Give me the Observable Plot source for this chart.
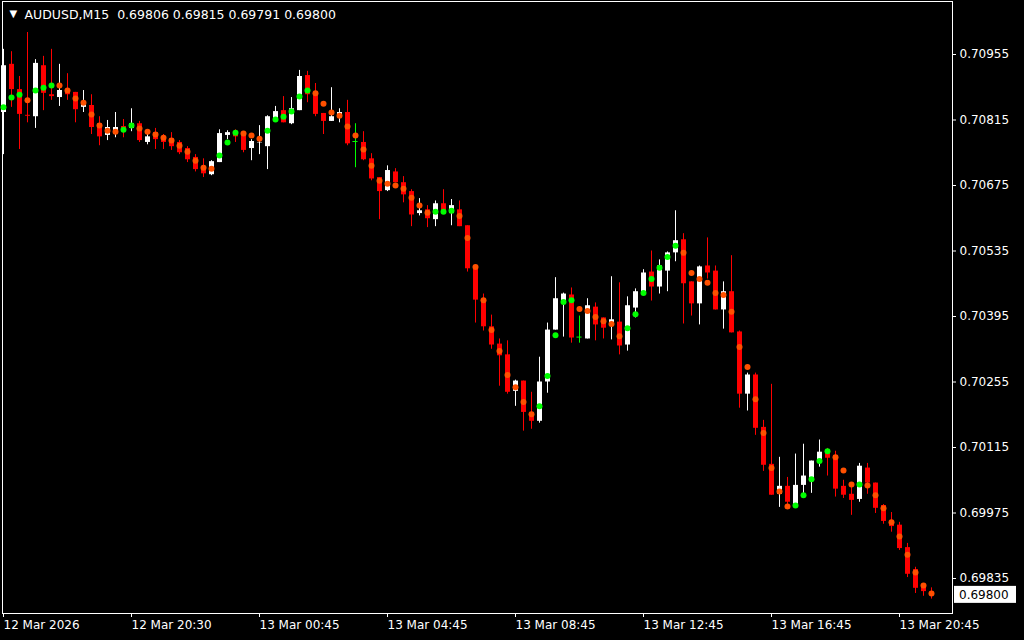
<!DOCTYPE html>
<html><head><meta charset="utf-8">
<script src="https://cdn.jsdelivr.net/npm/d3@7"></script>
<script src="https://cdn.jsdelivr.net/npm/@observablehq/plot@0.6"></script>
<style>
html,body{margin:0;padding:0;background:#000;overflow:hidden;}
#chart{width:1024px;height:640px;}
</style></head><body><div id="chart"></div>
<script>
const symbol = "AUDUSD";
const timeframe = "M15";

const opens = [0.70831,0.70934,0.70880,0.70825,0.70822,0.70931,0.70869,0.70863,0.70880,0.70874,
0.70842,0.70846,0.70807,0.70782,0.70790,0.70801,0.70797,0.70807,0.70767,0.70788,
0.70777,0.70775,0.70767,0.70754,0.70735,0.70715,0.70698,0.70724,0.70782,0.70786,
0.70784,0.70754,0.70766,0.70758,0.70812,0.70835,0.70807,0.70835,0.70910,0.70874,
0.70829,0.70812,0.70822,0.70831,0.70769,0.70767,0.70732,0.70692,0.70664,0.70704,
0.70681,0.70662,0.70615,0.70623,0.70602,0.70636,0.70615,0.70623,0.70589,0.70497,
0.70430,0.70373,0.70336,0.70313,0.70235,0.70257,0.70190,0.70171,0.70255,0.70366,
0.70426,0.70441,0.70351,0.70347,0.70415,0.70392,0.70377,0.70383,0.70334,0.70413,
0.70445,0.70490,0.70458,0.70492,0.70531,0.70559,0.70469,0.70422,0.70503,0.70492,
0.70409,0.70448,0.70362,0.70229,0.70270,0.70158,0.70079,0.70015,0.70032,0.69991,
0.70034,0.70049,0.70083,0.70103,0.70098,0.70032,0.70015,0.70004,0.70071,0.70039,
0.69991,0.69955,0.69949,0.69901,0.69854,0.69816,0.69806];

const highs = [0.70966,0.70961,0.70908,0.71002,0.70944,0.70951,0.70966,0.70934,0.70914,0.70874,
0.70878,0.70869,0.70822,0.70814,0.70831,0.70816,0.70839,0.70812,0.70790,0.70797,
0.70784,0.70788,0.70771,0.70758,0.70741,0.70732,0.70728,0.70794,0.70792,0.70794,
0.70790,0.70773,0.70803,0.70824,0.70844,0.70865,0.70863,0.70921,0.70919,0.70893,
0.70829,0.70884,0.70839,0.70857,0.70807,0.70790,0.70743,0.70692,0.70717,0.70711,
0.70694,0.70666,0.70647,0.70632,0.70642,0.70666,0.70645,0.70642,0.70589,0.70499,
0.70443,0.70398,0.70347,0.70343,0.70259,0.70257,0.70233,0.70308,0.70381,0.70478,
0.70445,0.70456,0.70396,0.70433,0.70424,0.70392,0.70480,0.70467,0.70437,0.70454,
0.70495,0.70535,0.70516,0.70533,0.70621,0.70572,0.70469,0.70503,0.70563,0.70503,
0.70469,0.70525,0.70364,0.70274,0.70274,0.70173,0.70250,0.70094,0.70051,0.70101,
0.70122,0.70086,0.70131,0.70113,0.70107,0.70045,0.70034,0.70081,0.70081,0.70039,
0.69993,0.69976,0.69955,0.69910,0.69859,0.69822,0.69815];

const lows = [0.70741,0.70842,0.70752,0.70809,0.70797,0.70835,0.70857,0.70844,0.70857,0.70809,
0.70831,0.70784,0.70760,0.70771,0.70777,0.70777,0.70790,0.70767,0.70762,0.70752,
0.70752,0.70750,0.70741,0.70724,0.70704,0.70692,0.70696,0.70724,0.70773,0.70767,
0.70745,0.70728,0.70741,0.70709,0.70812,0.70809,0.70805,0.70835,0.70852,0.70822,
0.70784,0.70812,0.70809,0.70760,0.70713,0.70728,0.70685,0.70602,0.70662,0.70681,
0.70638,0.70587,0.70610,0.70585,0.70587,0.70615,0.70589,0.70587,0.70490,0.70381,
0.70364,0.70325,0.70246,0.70229,0.70203,0.70150,0.70154,0.70167,0.70231,0.70366,
0.70351,0.70338,0.70338,0.70347,0.70343,0.70347,0.70345,0.70313,0.70321,0.70392,
0.70445,0.70428,0.70443,0.70448,0.70512,0.70379,0.70396,0.70377,0.70475,0.70409,
0.70368,0.70360,0.70199,0.70193,0.70141,0.70064,0.70013,0.69987,0.69987,0.69991,
0.70015,0.70017,0.70073,0.70054,0.70009,0.70006,0.69970,0.69998,0.70015,0.69974,
0.69951,0.69934,0.69895,0.69837,0.69803,0.69797,0.69791];

const closes = [0.70931,0.70880,0.70827,0.70823,0.70936,0.70872,0.70865,0.70878,0.70869,0.70837,
0.70850,0.70799,0.70779,0.70799,0.70799,0.70790,0.70807,0.70771,0.70779,0.70773,
0.70767,0.70758,0.70745,0.70730,0.70709,0.70700,0.70726,0.70786,0.70788,0.70779,
0.70750,0.70769,0.70767,0.70822,0.70833,0.70809,0.70839,0.70908,0.70869,0.70827,
0.70812,0.70822,0.70831,0.70764,0.70769,0.70730,0.70689,0.70662,0.70707,0.70681,
0.70655,0.70612,0.70621,0.70604,0.70636,0.70615,0.70632,0.70587,0.70497,0.70430,
0.70373,0.70334,0.70311,0.70233,0.70257,0.70190,0.70171,0.70255,0.70366,0.70433,
0.70443,0.70349,0.70351,0.70418,0.70377,0.70370,0.70388,0.70332,0.70418,0.70448,
0.70488,0.70458,0.70503,0.70531,0.70557,0.70465,0.70422,0.70501,0.70488,0.70409,
0.70448,0.70360,0.70229,0.70270,0.70156,0.70077,0.70013,0.70032,0.69998,0.70034,
0.70054,0.70086,0.70105,0.70092,0.70026,0.70013,0.70002,0.70075,0.70039,0.69985,
0.69957,0.69946,0.69899,0.69844,0.69814,0.69807,0.69800];

// indicator dots: value and direction (1 = rising/green, 0 = falling/orange)
const dotValues = [0.70842,0.70863,0.70869,0.70857,0.70878,0.70884,0.70889,0.70889,0.70878,0.70861,
0.70852,0.70827,0.70803,0.70792,0.70790,0.70794,0.70803,0.70797,0.70790,0.70784,
0.70777,0.70771,0.70760,0.70747,0.70728,0.70713,0.70711,0.70739,0.70767,0.70788,
0.70786,0.70782,0.70775,0.70792,0.70816,0.70822,0.70833,0.70865,0.70878,0.70872,
0.70850,0.70831,0.70824,0.70801,0.70782,0.70752,0.70717,0.70685,0.70679,0.70675,
0.70668,0.70649,0.70632,0.70617,0.70619,0.70619,0.70621,0.70610,0.70563,0.70501,
0.70430,0.70366,0.70321,0.70270,0.70244,0.70212,0.70186,0.70203,0.70268,0.70355,
0.70426,0.70430,0.70411,0.70407,0.70394,0.70385,0.70379,0.70353,0.70370,0.70400,
0.70445,0.70475,0.70499,0.70522,0.70546,0.70531,0.70488,0.70475,0.70467,0.70445,
0.70441,0.70405,0.70330,0.70287,0.70218,0.70146,0.70071,0.70021,0.69989,0.69991,
0.70013,0.70047,0.70086,0.70107,0.70094,0.70066,0.70036,0.70036,0.70034,0.70013,
0.69985,0.69955,0.69925,0.69886,0.69848,0.69820,0.69803];

const dotRising = [1,1,1,0,1,1,1,0,0,0, 0,0,0,0,0,1,1,0,0,0,
0,0,0,0,0,0,0,1,1,1, 0,0,0,1,1,1,1,1,1,0,
0,0,0,0,0,0,0,0,0,0, 0,0,0,0,1,1,1,0,0,0,
0,0,0,0,0,0,0,1,1,1, 1,1,0,0,0,0,0,0,1,1,
1,1,1,1,1,0,0,0,0,0, 0,0,0,0,0,0,0,0,0,1,
1,1,1,1,0,0,0,1,0,0, 0,0,0,0,0,0,0];

const yTicks = [0.69835,0.69975,0.70115,0.70255,0.70395,0.70535,0.70675,0.70815,0.70955];
const xTickBars = [0,16,32,48,64,80,96,112];
const xTickLabels = ["12 Mar 2026","12 Mar 20:30","13 Mar 00:45","13 Mar 04:45","13 Mar 08:45","13 Mar 12:45","13 Mar 16:45","13 Mar 20:45"];

const fmt = d3.format(".5f");
const bars = opens.map((o, i) => ({i, open: o, high: highs[i], low: lows[i], close: closes[i], dot: dotValues[i], rising: dotRising[i] === 1}));
const candleColor = d => d.close > d.open ? "#ffffff" : d.close < d.open ? "#ff0000" : "#00ff00";
const last = bars[bars.length - 1];
const header = `${symbol},${timeframe}\u00a0\u00a0${fmt(last.open)} ${fmt(last.high)} ${fmt(last.low)} ${fmt(last.close)}`;

const chart = Plot.plot({
  width: 1024,
  height: 640,
  marginLeft: 2,
  marginRight: 72,
  marginTop: 1,
  marginBottom: 27,
  style: {background: "#000", color: "#fff", fontFamily: "DejaVu Sans, sans-serif", fontSize: "12px", maxWidth: "none"},
  x: {type: "linear", domain: [0, 116], range: [3, 931]},
  y: {domain: [0.69835, 0.70955], range: [578, 54]},
  color: {type: "identity"},
  marks: [
    Plot.frame({stroke: "#fff", strokeWidth: 1}),
    Plot.ruleX(bars, {x: "i", y1: "low", y2: "high", stroke: candleColor, strokeWidth: 1}),
    Plot.ruleX(bars.filter(d => d.open !== d.close), {x: "i", y1: "open", y2: "close", stroke: candleColor, strokeWidth: 5}),
    Plot.ruleY(bars.filter(d => d.open === d.close), {y: "close", x1: d => d.i - 0.32, x2: d => d.i + 0.32, stroke: "#00ff00", strokeWidth: 1}),
    Plot.dot(bars, {x: "i", y: "dot", r: 3, fill: d => d.rising ? "#00ff00" : "#ff5000", stroke: "none"}),
    Plot.axisY({anchor: "right", ticks: yTicks, tickFormat: fmt, tickSize: 3, tickPadding: 4, stroke: "#fff", fill: "#fff", fontSize: 12, label: null}),
    Plot.axisX({anchor: "bottom", ticks: xTickBars, tickFormat: i => xTickLabels[xTickBars.indexOf(i)], tickSize: 4, tickPadding: 3, textAnchor: "start", stroke: "#fff", fill: "#fff", fontSize: 12, label: null}),
    Plot.text(["\u25BC"], {frameAnchor: "top-left", dx: 7, dy: 8, fill: "#fff", fontSize: 10, textAnchor: "start"}),
    Plot.text([header], {frameAnchor: "top-left", dx: 22, dy: 9, fill: "#fff", fontSize: 12.5, textAnchor: "start"})
  ]
});
document.getElementById("chart").appendChild(chart);

// current price label: white box with black text at the last close, placed through the y scale
const yScale = chart.scale("y");
const yPos = yScale.apply(last.close);
const svg = d3.select(chart);
const lab = svg.append("g").attr("font-family", "DejaVu Sans, sans-serif").attr("font-size", 12).attr("text-anchor", "start");
lab.append("rect")
  .attr("x", 954).attr("y", yPos - 8.5)
  .attr("width", 62).attr("height", 17)
  .attr("fill", "#fff");
lab.append("text")
  .attr("x", 959).attr("y", yPos)
  .attr("dy", "0.35em")
  .attr("text-anchor", "start")
  .attr("fill", "#000")
  .text(fmt(last.close));
</script></body></html>
